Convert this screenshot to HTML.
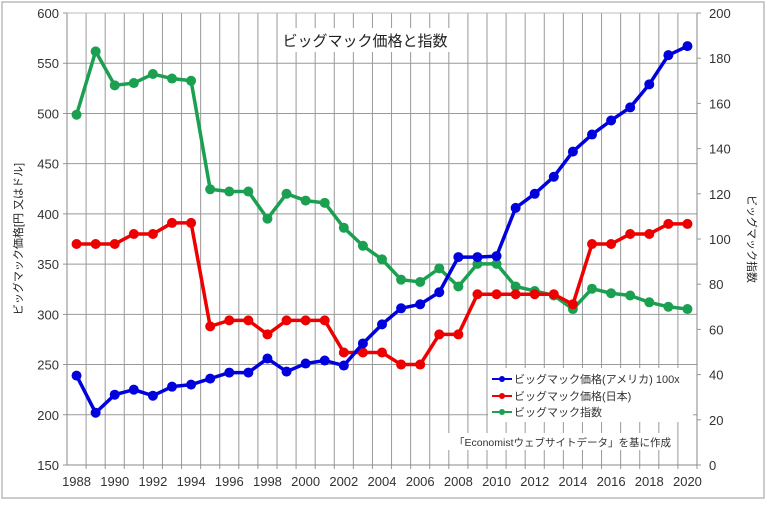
<!DOCTYPE html>
<html><head><meta charset="utf-8"><style>
body{margin:0;background:#fff;width:768px;height:502px;overflow:hidden}
svg text{font-family:"Liberation Sans","Noto Sans CJK JP",sans-serif}
</style></head><body>
<svg id="chart" width="768" height="502">
<rect x="2" y="2" width="762" height="496" fill="#fff" stroke="#bbb" stroke-width="1.5"/>
<g id="grid"></g><g id="axes"></g><g id="series"></g>
<rect x="280" y="28" width="170" height="24" fill="#fff"/>
<text x="365" y="46" text-anchor="middle" font-size="15" fill="#222">ビッグマック価格と指数</text>
<text transform="translate(22,239) rotate(-90)" text-anchor="middle" font-size="11" fill="#222">ビッグマック価格[円 又はドル]</text>
<text transform="translate(748,239) rotate(90)" text-anchor="middle" font-size="11" fill="#222">ビッグマック指数</text>
<g>
<rect x="488" y="368" width="205" height="54" fill="#fff"/>
<line x1="492" y1="379" x2="512" y2="379" stroke="#0000dd" stroke-width="2"/><circle cx="502" cy="379" r="3" fill="#0000dd"/>
<text x="514" y="383" font-size="11" fill="#333">ビッグマック価格(アメリカ)  100x</text>
<line x1="492" y1="396" x2="512" y2="396" stroke="#e00" stroke-width="2"/><circle cx="502" cy="396" r="3" fill="#e00"/>
<text x="514" y="400" font-size="11" fill="#333">ビッグマック価格(日本)</text>
<line x1="492" y1="412" x2="512" y2="412" stroke="#1aa050" stroke-width="2"/><circle cx="502" cy="412" r="3" fill="#1aa050"/>
<text x="514" y="416" font-size="11" fill="#333">ビッグマック指数</text>
</g>
<rect x="448" y="433" width="222" height="17" fill="#fff"/>
<text x="454" y="446" font-size="10.5" fill="#333">「Economistウェブサイトデータ」を基に作成</text>
</svg>
<script>
const years=[1988,1989,1990,1991,1992,1993,1994,1995,1996,1997,1998,1999,2000,2001,2002,2003,2004,2005,2006,2007,2008,2009,2010,2011,2012,2013,2014,2015,2016,2017,2018,2019,2020];
const usaPrice=[239,202,220,225,219,228,230,236,242,242,256,243,251,254,249,271,290,306,310,322,357,357,358,406,420,437,462,479,493,506,529,558,567];
const japanPrice=[370,370,370,380,380,391,391,288,294,294,280,294,294,294,262,262,262,250,250,280,280,320,320,320,320,320,310,370,370,380,380,390,390];
const bigMacIndex=[155,183,168,169,173,171,170,122,121,121,109,120,117,116,105,97,91,82,81,87,79,89,89,79,77,75,69,78,76,75,72,70,69];
const leftTicks=[150,200,250,300,350,400,450,500,550,600];
const rightTicks=[0,20,40,60,80,100,120,140,160,180,200];
const X0=67,X1=697,Y0=465,Y1=13;
const bw=(X1-X0)/years.length;
const xs=i=>X0+bw*(i+0.5);
const yL=v=>Y0-(v-150)/450*(Y0-Y1);
const yR=v=>Y0-v/200*(Y0-Y1);
const NS='http://www.w3.org/2000/svg';
function mk(tag,attrs,parent){const e=document.createElementNS(NS,tag);for(const k in attrs)e.setAttribute(k,attrs[k]);parent.appendChild(e);return e;}
const grid=document.getElementById('grid'),axes=document.getElementById('axes'),ser=document.getElementById('series');
for(let k=1;k<=years.length;k++){const x=X0+bw*k;const l=mk('line',{x1:x,y1:Y1,x2:x,y2:Y0+4,stroke:'#999','stroke-width':1},grid);

}
leftTicks.forEach(v=>{const y=yL(v);const l=mk('line',{x1:X0-4,y1:y,x2:X1,y2:y,stroke:'#999','stroke-width':1},grid);


const t=mk('text',{x:X0-8,y:y+5,'text-anchor':'end','font-size':13,fill:'#333'},axes);t.textContent=v;

});
rightTicks.forEach(v=>{const y=yR(v);mk('line',{x1:X1,y1:y,x2:X1+4,y2:y,stroke:'#999'},grid);
const t=mk('text',{x:X1+12,y:y+5,'font-size':13,fill:'#333'},axes);t.textContent=v;

});
mk('line',{x1:X0,y1:Y1,x2:X0,y2:Y0,stroke:'#888'},axes);
mk('line',{x1:X1,y1:Y1,x2:X1,y2:Y0,stroke:'#888'},axes);
mk('line',{x1:X0,y1:Y0,x2:X1,y2:Y0,stroke:'#888'},axes);
mk('line',{x1:X0,y1:Y1,x2:X1,y2:Y1,stroke:'#bbb'},axes);
years.forEach((yr,i)=>{if(i%2===0){const t=mk('text',{x:xs(i),y:486,'text-anchor':'middle','font-size':13,fill:'#333'},axes);t.textContent=yr;

}});
function draw(vals,yf,color,name){const g=mk('g',{},ser);


mk('polyline',{points:vals.map((v,i)=>xs(i)+','+yf(v)).join(' '),fill:'none',stroke:color,'stroke-width':3.5,'stroke-linejoin':'round'},g);
vals.forEach((v,i)=>{const c=mk('circle',{cx:xs(i),cy:yf(v),r:5,fill:color},g);

});}
draw(bigMacIndex,yR,'#1aa050','index-series');
draw(japanPrice,yL,'#e00','japan-series');
draw(usaPrice,yL,'#0000dd','usa-series');
</script>
</body></html>
